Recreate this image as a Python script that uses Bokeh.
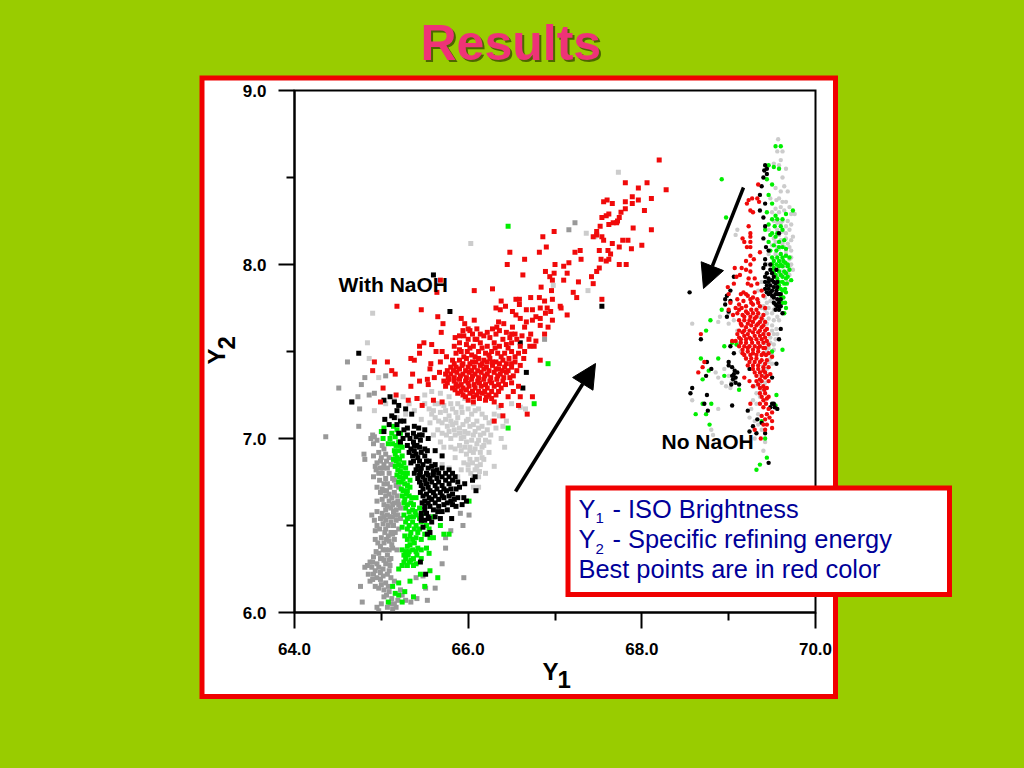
import math
from bokeh.plotting import figure
from bokeh.models import (BoxAnnotation, Label, Arrow, NormalHead, FixedTicker, NumeralTickFormatter,
                          GlobalInlineStyleSheet, ColumnDataSource)
from bokeh.embed import file_html
from bokeh.resources import INLINE

X_TICKS = [64, 66, 68, 70]
X_MINOR = [65, 67, 69]
Y_TICKS = [6, 7, 8, 9]
Y_MINOR = [6.5, 7.5, 8.5]

NAOH_DARKGRAY = [(64.36,7.01),(64.51,7.29),(64.61,7.44),(64.81,7.35),(64.77,7.31),(64.73,7.24),(64.66,7.21),(64.75,7.17),(64.86,7.25),(64.92,7.26),(64.74,7.07),(64.90,7.02),(64.88,7.0),(64.92,7.01),(64.95,6.99),(64.91,6.97),(65.01,6.96),(65.03,6.94),(64.80,6.91),(64.81,6.88),(64.91,6.90),(65.05,6.91),(64.99,6.87),(64.95,6.86),(64.93,6.84),(64.99,6.83),(65.03,6.85),(64.97,6.80),(65.01,6.80),(64.91,6.78),(65.07,6.83),(65.11,6.85),(65.09,6.89),(65.13,6.77),(65.05,6.77),(65.07,6.74),(65.15,6.76),(65.03,6.70),(64.99,6.69),(65.05,6.67),(64.95,6.64),(65.01,6.65),(65.09,6.68),(65.15,6.69),(65.20,6.72),(65.09,6.64),(65.13,6.62),(65.19,6.64),(65.07,6.61),(65.11,6.60),(65.17,6.59),(65.22,6.60),(64.89,6.56),(64.95,6.58),(65.01,6.57),(65.07,6.56),(65.13,6.55),(65.19,6.56),(64.99,6.54),(65.05,6.53),(65.11,6.52),(65.17,6.53),(65.22,6.54),(64.93,6.47),(64.95,6.50),(65.05,6.48),(65.11,6.46),(65.20,6.48),(64.93,6.42),(64.99,6.38),(65.03,6.40),(65.09,6.41),(65.15,6.42),(65.05,6.36),(64.97,6.34),(64.91,6.32),(65.01,6.31),(64.87,6.29),(64.95,6.28),(65.07,6.33),(65.13,6.37),(64.81,6.26),(64.89,6.26),(64.97,6.26),(65.05,6.28),(65.11,6.31),(64.85,6.22),(64.91,6.22),(64.99,6.23),(65.09,6.24),(64.87,6.18),(64.99,6.19),(65.05,6.17),(65.11,6.20),(65.15,6.18),(64.97,6.14),(65.03,6.13),(65.09,6.12),(64.76,6.15),(64.78,6.06),(65.03,6.09),(64.95,6.03),(64.97,6.01),(65.15,6.05),(65.17,6.03),(65.13,6.02),(65.28,6.07),(65.34,6.06),(65.41,6.08),(65.53,6.07),(65.51,6.14),(65.62,6.14),(65.40,6.20),(65.48,6.21),(65.70,6.28),(65.74,6.37),(65.74,6.43),(65.80,6.47),(65.94,6.50),(65.91,6.57),(66.01,6.56),(65.95,6.20),(67.23,8.24),(67.16,8.20),(66.88,7.57),(65.05,7.36),(64.95,6.72),(65.04,6.46),(65.16,6.46),(65.18,6.36),(65.10,6.27),(65.24,6.27),(65.22,6.13),(65.10,6.05)]
NAOH_DARKGRAY_DENSE = [(64.97,6.92),(65.0,6.89),(65.06,6.87),(64.94,6.82),(65.02,6.83),(65.09,6.80),(64.98,6.76),(65.03,6.74),(65.1,6.72),(65.17,6.73),(65.01,6.71),(65.06,6.70),(65.12,6.66),(65.18,6.67),(65.03,6.62),(65.15,6.63),(65.2,6.62),(65.05,6.59),(65.14,6.58),(65.03,6.55),(65.1,6.55),(65.16,6.56),(64.92,6.53),(65.02,6.51),(65.08,6.5),(65.14,6.5),(64.98,6.48),(65.08,6.44),(65.13,6.45),(65.0,6.43),(65.06,6.42),(64.96,6.4),(65.12,6.39),(65.02,6.36),(65.09,6.36),(64.94,6.35),(64.99,6.31),(64.9,6.29),(65.03,6.3),(65.09,6.3),(64.84,6.27),(64.93,6.24),(65.02,6.25),(65.07,6.22),(64.95,6.2),(64.9,6.19),(65.02,6.21),(65.0,6.16),(65.08,6.15),(64.93,6.15),(65.06,6.1),(65.12,6.08),(65.0,6.05),(65.07,6.03),(65.19,6.07),(65.24,6.1)]

NAOH_LIGHTGRAY = [(66.03,8.12),(67.73,8.53),(64.90,7.72),(64.84,7.55),(64.86,7.46),(64.97,7.35),(67.36,8.18),(67.38,7.85),(66.98,7.88),(67.46,8.16),(65.05,7.2),(64.92,7.16),(65.15,7.22),(65.25,7.24),(65.32,7.2),(65.42,7.23),(65.5,7.25),(65.58,7.27),(65.68,7.26),(65.78,7.24),(65.88,7.2),(65.96,7.23),(66.06,7.2),(66.12,7.17),(66.2,7.12),(66.28,7.1),(66.36,7.13),(66.44,7.1),(66.5,7.2),(66.6,7.18),(66.66,7.17),(66.35,7.18),(65.5,7.2),(65.55,7.17),(65.62,7.2),(65.68,7.15),(65.72,7.19),(65.78,7.13),(65.82,7.17),(65.88,7.12),(65.93,7.15),(65.98,7.1),(66.04,7.14),(66.1,7.1),(66.16,7.07),(66.22,7.05),(65.62,7.12),(65.7,7.09),(65.76,7.07),(65.82,7.08),(65.9,7.06),(65.96,7.04),(66.02,7.07),(66.08,7.04),(66.14,7.02),(66.2,6.99),(66.26,7.02),(66.32,7.06),(65.75,7.02),(65.8,7.0),(65.85,7.02),(65.92,7.0),(65.98,6.98),(66.04,6.99),(66.1,6.97),(66.16,6.95),(66.06,6.92),(65.8,6.95),(65.85,6.94),(65.92,6.93),(65.98,6.91),(66.02,6.88),(66.1,6.88),(66.14,6.85),(65.85,6.89),(65.95,6.86),(66.0,6.82),(66.08,6.82),(66.06,6.77),(66.12,6.78),(66.3,6.84),(66.12,6.72),(66.06,6.72),(65.18,7.12),(65.28,7.14),(65.38,7.16),(65.46,7.11),(65.56,7.09),(66.18,6.88),(66.24,6.92),(65.72,6.95),(65.6,7.02),(65.65,7.05),(65.68,6.98),(65.7,6.85),(65.78,6.83),(65.88,6.78),(66.38,7.0),(66.42,6.95),(66.2,6.8)]
NAOH_LIGHTGRAY_DENSE = [(65.6,7.16),(65.66,7.2),(65.74,7.16),(65.8,7.2),(65.86,7.15),(65.92,7.18),(66.0,7.17),(66.08,7.16),(66.16,7.14),(66.24,7.09),(66.3,7.14),(66.4,7.07),(65.58,7.14),(65.66,7.1),(65.74,7.11),(65.8,7.1),(65.86,7.09),(65.94,7.08),(66.0,7.11),(66.06,7.08),(66.12,7.06),(66.18,7.03),(66.24,6.98),(65.7,7.03),(65.78,7.04),(65.84,7.05),(65.9,7.03),(65.95,7.01),(66.0,7.03),(66.06,7.02),(66.12,6.99),(66.18,6.96),(66.02,6.95),(66.08,6.94),(65.96,6.95),(65.9,6.96),(66.14,6.92),(66.0,6.85),(66.05,6.86),(66.1,6.84),(66.13,6.81),(66.03,6.8),(65.92,6.82),(66.16,6.89),(66.02,6.93)]

NAOH_GREEN = [(66.46,8.22),(66.92,7.43),(66.76,7.2),(66.46,7.06),(66.01,6.64),(65.0,7.04),(65.03,7.06),(65.12,7.03),(65.14,7.07),(65.18,7.05),(65.02,7.0),(65.1,7.0),(65.16,7.01),(65.22,7.03),(65.08,6.97),(65.13,6.97),(65.2,6.98),(65.15,6.93),(65.2,6.93),(65.24,6.95),(65.18,6.89),(65.24,6.9),(65.14,6.88),(65.2,6.85),(65.26,6.86),(65.16,6.84),(65.22,6.81),(65.28,6.83),(65.18,6.79),(65.25,6.77),(65.3,6.8),(65.2,6.75),(65.27,6.74),(65.33,6.76),(65.23,6.71),(65.3,6.7),(65.24,6.67),(65.32,6.67),(65.26,6.63),(65.34,6.63),(65.4,6.66),(65.28,6.6),(65.36,6.59),(65.44,6.6),(65.26,6.56),(65.33,6.55),(65.4,6.56),(65.5,6.57),(65.6,6.55),(65.28,6.52),(65.36,6.52),(65.46,6.52),(65.68,6.5),(65.24,6.49),(65.3,6.48),(65.38,6.48),(65.55,6.48),(65.72,6.45),(65.27,6.44),(65.33,6.44),(65.4,6.43),(65.6,6.43),(65.78,6.45),(65.33,6.39),(65.38,6.4),(65.24,6.36),(65.32,6.35),(65.42,6.37),(65.56,6.43),(65.28,6.31),(65.34,6.3),(65.41,6.33),(65.52,6.37),(65.24,6.27),(65.3,6.27),(65.37,6.27),(65.46,6.31),(65.55,6.34),(65.2,6.25),(65.45,6.22),(65.2,6.17),(65.13,6.15),(65.33,6.18),(65.56,6.24),(65.65,6.2),(65.16,6.11),(65.27,6.12),(65.5,6.15),(65.08,6.06),(65.24,6.06),(65.2,6.1),(65.37,6.09)]
NAOH_GREEN_DENSE = [(65.17,6.96),(65.22,6.96),(65.16,6.91),(65.21,6.88),(65.17,6.87),(65.23,6.84),(65.19,6.82),(65.25,6.8),(65.21,6.78),(65.28,6.78),(65.23,6.75),(65.3,6.73),(65.25,6.7),(65.33,6.72),(65.27,6.65),(65.29,6.68),(65.35,6.66),(65.3,6.62),(65.37,6.62),(65.32,6.58),(65.39,6.58),(65.3,6.54),(65.37,6.55),(65.44,6.54),(65.32,6.5),(65.4,6.5),(65.34,6.46),(65.42,6.46),(65.3,6.42),(65.36,6.42),(65.3,6.38),(65.36,6.36),(65.28,6.35),(65.4,6.35),(65.26,6.33),(65.31,6.33),(65.37,6.31),(65.26,6.29),(65.32,6.29),(65.4,6.28),(65.46,6.42),(65.5,6.45),(65.46,6.36),(65.44,6.48),(65.52,6.5)]

NAOH_BLACK = [(64.74,7.49),(64.66,7.21),(65.6,7.94),(65.79,7.73),(66.6,7.55),(66.67,7.38),(67.54,7.76),(66.63,7.29),(65.03,7.22),(65.1,7.24),(65.15,7.21),(65.2,7.19),(65.35,7.14),(65.18,7.16),(65.28,7.17),(65.04,7.11),(65.09,7.08),(65.18,7.08),(65.26,7.05),(65.03,7.04),(65.2,7.03),(65.3,7.06),(65.38,7.07),(65.44,7.02),(65.3,7.02),(65.37,7.03),(65.43,7.06),(65.5,7.05),(65.22,6.98),(65.3,6.96),(65.37,6.98),(65.45,6.99),(65.54,7.0),(65.38,6.93),(65.44,6.95),(65.5,6.94),(65.36,6.9),(65.42,6.89),(65.5,6.9),(65.55,6.87),(65.34,6.86),(65.42,6.84),(65.48,6.85),(65.58,6.84),(65.38,6.8),(65.45,6.81),(65.52,6.8),(65.64,6.82),(65.7,6.83),(65.78,6.82),(65.42,6.77),(65.5,6.76),(65.56,6.77),(65.64,6.77),(65.7,6.78),(65.78,6.78),(65.85,6.78),(65.88,6.75),(65.46,6.73),(65.54,6.72),(65.62,6.73),(65.7,6.73),(65.78,6.74),(65.86,6.71),(65.45,6.69),(65.52,6.68),(65.6,6.69),(65.68,6.69),(65.75,6.7),(65.82,6.68),(65.96,6.74),(66.05,6.76),(66.08,6.78),(66.09,6.7),(65.5,6.64),(65.58,6.65),(65.66,6.65),(65.72,6.66),(65.8,6.64),(65.88,6.66),(65.95,6.66),(65.5,6.61),(65.56,6.61),(65.66,6.61),(65.72,6.62),(65.86,6.61),(65.93,6.62),(65.98,6.64),(65.46,6.57),(65.52,6.57),(65.62,6.55),(65.68,6.54),(65.81,6.54),(65.5,6.53),(65.58,6.52),(65.48,6.49),(65.56,6.46),(65.45,6.29),(65.51,6.22),(65.53,6.45),(65.55,6.54),(65.65,6.58),(65.76,6.59),(65.25,7.0),(65.62,6.93),(65.7,6.9),(65.62,6.85)]
NAOH_BLACK_DENSE = [(65.33,7.0),(65.4,7.01),(65.34,6.94),(65.41,6.96),(65.47,7.02),(65.38,6.96),(65.32,6.92),(65.4,6.91),(65.46,6.92),(65.53,6.93),(65.37,6.87),(65.44,6.87),(65.52,6.87),(65.4,6.82),(65.46,6.83),(65.54,6.83),(65.6,6.81),(65.44,6.79),(65.48,6.78),(65.54,6.79),(65.6,6.79),(65.66,6.8),(65.74,6.8),(65.82,6.8),(65.44,6.75),(65.52,6.74),(65.58,6.75),(65.66,6.75),(65.74,6.76),(65.82,6.76),(65.48,6.71),(65.56,6.7),(65.64,6.71),(65.72,6.71),(65.8,6.71),(65.9,6.72),(65.48,6.67),(65.55,6.66),(65.62,6.67),(65.7,6.67),(65.78,6.67),(65.84,6.65),(65.47,6.63),(65.54,6.63),(65.62,6.63),(65.76,6.63),(65.82,6.62),(65.5,6.59),(65.6,6.59),(65.7,6.58),(65.46,6.55),(65.54,6.55),(65.46,6.53),(65.15,7.12),(65.26,7.1),(65.12,7.13),(65.22,7.1)]

NAOH_RED = [(68.20,8.60),(68.28,8.43),(68.06,8.47),(67.96,8.44),(67.81,8.47),(67.89,8.39),(67.96,8.37),(68.11,8.38),(67.81,8.36),(67.89,8.35),(67.66,8.35),(67.60,8.37),(67.56,8.36),(68.03,8.31),(67.81,8.32),(67.76,8.30),(67.62,8.29),(67.59,8.28),(67.54,8.27),(67.74,8.27),(67.72,8.25),(67.62,8.23),(67.67,8.24),(67.71,8.24),(67.52,8.22),(67.90,8.21),(68.11,8.20),(67.48,8.19),(67.44,8.16),(67.48,8.17),(67.54,8.16),(67.56,8.14),(66.99,8.19),(66.86,8.16),(66.90,8.10),(66.82,8.07),(66.48,8.07),(66.65,8.03),(66.45,8.0),(67.23,8.07),(67.29,8.08),(67.30,8.03),(67.51,8.08),(67.66,8.12),(67.74,8.10),(67.78,8.14),(67.84,8.14),(67.88,8.09),(68.0,8.11),(67.74,8.0),(67.82,8.0),(67.64,8.06),(67.61,8.08),(67.53,8.03),(67.62,8.03),(67.59,8.02),(67.51,7.98),(67.48,7.96),(67.42,7.93),(67.44,7.89),(67.0,8.0),(67.10,7.99),(67.16,8.01),(67.14,7.95),(66.89,7.96),(66.94,7.93),(66.99,7.95),(66.97,7.91),(67.10,7.91),(67.27,7.90),(66.63,7.94),(66.84,7.87),(66.96,7.85),(67.21,7.84),(67.25,7.81),(67.54,7.80),(66.28,7.86),(66.07,7.85),(65.64,7.84),(65.68,7.91),(66.72,7.81),(66.82,7.81),(66.97,7.80),(66.88,7.79),(66.55,7.80),(66.59,7.80),(66.59,7.77),(66.43,7.76),(66.38,7.79),(66.32,7.75),(66.37,7.74),(66.51,7.73),(66.55,7.71),(66.67,7.74),(66.74,7.74),(66.83,7.75),(66.91,7.75),(67.06,7.76),(67.07,7.75),(67.14,7.71),(66.89,7.72),(66.95,7.73),(66.78,7.70),(66.74,7.68),(66.67,7.67),(66.6,7.69),(66.83,7.69),(66.92,7.64),(66.97,7.68),(66.83,7.65),(66.65,7.64),(66.51,7.64),(66.41,7.66),(66.35,7.67),(66.33,7.64),(66.07,7.68),(65.92,7.69),(65.96,7.66),(66.0,7.63),(65.65,7.70),(65.71,7.66),(65.69,7.61),(65.46,7.74),(65.18,7.76),(66.88,7.60),(66.70,7.57),(66.78,7.56),(66.71,7.53),(66.76,7.53),(66.65,7.50),(66.83,7.45),(64.92,7.44),(65.07,7.44),(64.90,7.39),(65.12,7.39),(65.02,7.29),(65.16,7.37),(65.34,7.46),(65.38,7.45),(65.44,7.49),(65.44,7.53),(65.49,7.55),(65.58,7.54),(65.63,7.5),(65.70,7.5),(65.68,7.44),(65.75,7.47),(65.57,7.43),(65.56,7.40),(65.67,7.38),(65.36,7.37),(65.44,7.33),(65.34,7.30),(65.53,7.34),(65.61,7.35),(65.54,7.31),(64.99,7.21),(65.17,7.25),(65.31,7.22),(65.41,7.23),(65.47,7.19),(65.6,7.22),(65.7,7.21),
(65.85,7.58),(65.95,7.59),(66.05,7.6),(66.1,7.57),(66.18,7.59),(66.25,7.58),(66.32,7.6),(66.4,7.57),(66.48,7.58),(66.56,7.57),(65.84,7.53),(65.9,7.55),(65.98,7.54),(66.06,7.53),(66.14,7.55),(66.22,7.53),(66.3,7.55),(66.36,7.53),(66.44,7.54),(66.5,7.55),(66.6,7.53),(65.86,7.49),(65.92,7.5),(65.99,7.5),(66.04,7.48),(66.12,7.5),(66.2,7.49),(66.27,7.5),(66.34,7.49),(66.42,7.49),(66.5,7.5),(66.58,7.49),(66.64,7.46),(65.82,7.45),(65.9,7.45),(65.98,7.46),(66.05,7.44),(66.12,7.46),(66.18,7.45),(66.25,7.46),(66.32,7.44),(66.4,7.45),(66.47,7.46),(66.54,7.44),(66.6,7.42),(65.8,7.41),(65.86,7.41),(65.93,7.42),(66.0,7.41),(66.07,7.41),(66.14,7.42),(66.21,7.41),(66.28,7.42),(66.35,7.4),(66.42,7.41),(66.5,7.41),(66.56,7.39),(65.74,7.37),(65.8,7.37),(65.87,7.38),(65.94,7.37),(66.01,7.38),(66.08,7.37),(66.15,7.38),(66.22,7.37),(66.3,7.38),(66.37,7.37),(66.44,7.38),(66.52,7.36),(65.72,7.33),(65.78,7.34),(65.84,7.33),(65.9,7.34),(65.97,7.33),(66.04,7.34),(66.11,7.33),(66.18,7.34),(66.25,7.33),(66.33,7.34),(66.4,7.33),(66.5,7.32),(65.74,7.3),(65.82,7.29),(65.88,7.3),(65.94,7.29),(66.01,7.3),(66.08,7.29),(66.15,7.3),(66.22,7.29),(66.3,7.3),(66.38,7.29),(66.58,7.3),(66.52,7.27),(65.88,7.26),(65.94,7.25),(66.02,7.26),(66.1,7.25),(66.16,7.26),(66.24,7.25),(66.32,7.25),(66.46,7.24),(66.6,7.24),(66.0,7.22),(66.06,7.21),(66.2,7.22),(66.3,7.21),(66.38,7.19),(66.58,7.19),(66.68,7.14),(66.74,7.24),(66.4,7.13),(66.3,7.1)]
NAOH_RED_DENSE = [(65.9,7.51),(65.95,7.47),(66.02,7.52),(66.08,7.47),(66.16,7.52),(66.24,7.48),(66.31,7.52),(66.38,7.47),(66.46,7.52),(66.54,7.47),(65.84,7.43),(65.94,7.43),(66.02,7.43),(66.09,7.44),(66.16,7.43),(66.22,7.44),(66.28,7.44),(66.36,7.43),(66.44,7.43),(66.5,7.43),(65.76,7.39),(65.83,7.39),(65.9,7.4),(65.97,7.39),(66.04,7.39),(66.11,7.39),(66.18,7.4),(66.24,7.39),(66.32,7.4),(66.39,7.39),(66.46,7.39),(65.77,7.35),(65.84,7.35),(65.91,7.36),(65.98,7.35),(66.05,7.36),(66.12,7.35),(66.19,7.36),(66.26,7.35),(66.34,7.36),(66.41,7.35),(66.48,7.35),(65.76,7.32),(65.86,7.31),(65.92,7.31),(66.0,7.32),(66.07,7.31),(66.13,7.32),(66.2,7.31),(66.27,7.32),(66.35,7.31),(66.43,7.31),(65.85,7.28),(65.92,7.27),(65.98,7.28),(66.05,7.27),(66.12,7.27),(66.19,7.27),(66.27,7.27),(66.35,7.27),(65.97,7.24),(66.06,7.24),(66.13,7.23),(66.21,7.24),(66.27,7.23),(66.08,7.57),(66.0,7.57),(65.9,7.59),(66.14,7.6),(66.22,7.61),(66.36,7.62),(66.44,7.61),(66.54,7.6),(66.62,7.59),(66.72,7.6),(66.02,7.62),(65.94,7.62),(66.1,7.63),(66.28,7.63),(66.5,7.6)]

NONAOH_GRAY = [(69.57,8.72),(69.56,8.65),(69.62,8.65),(69.52,8.58),(69.58,8.57),(69.64,8.45),(69.54,8.44),(69.6,8.42),(69.48,8.38),(69.55,8.37),(69.62,8.36),(69.5,8.3),(69.58,8.3),(69.64,8.31),(69.72,8.29),(69.76,8.29),(69.68,8.25),(69.52,8.25),(69.6,8.24),(69.46,8.2),(69.56,8.2),(69.62,8.19),(69.7,8.2),(69.52,8.15),(69.6,8.14),(69.66,8.15),(69.72,8.14),(69.5,8.11),(69.56,8.1),(69.64,8.1),(69.7,8.1),(69.46,8.06),(69.54,8.06),(69.6,8.06),(69.66,8.06),(69.72,8.04),(69.58,8.02),(69.66,8.01),(69.72,8.0),(69.1,8.2),(69.08,8.17),(69.45,8.0),(69.52,7.97),(69.6,7.96),(69.68,7.96),(69.74,7.97),(69.68,7.9),(69.45,7.92),(69.38,7.9),(69.34,7.85),(69.42,7.85),(69.5,7.9),(69.34,7.79),(69.38,7.75),(69.44,7.78),(69.5,7.8),(69.56,7.78),(69.36,7.7),(69.44,7.72),(69.5,7.72),(69.56,7.7),(69.44,7.66),(69.5,7.65),(69.55,7.63),(69.4,7.6),(69.46,7.6),(69.52,7.6),(69.42,7.55),(69.48,7.55),(69.52,7.54),(69.44,7.5),(69.5,7.48),(69.46,7.44),(69.4,7.42),(69.36,7.38),(69.3,7.3),(69.36,7.24),(69.26,7.17),(69.24,7.12),(69.34,7.14),(69.38,7.05),(69.42,6.98),(69.3,7.0),(69.0,7.72),(69.06,7.68),(68.88,7.67),(68.58,7.66),(68.9,7.7),(69.0,7.66),(68.95,7.4),(68.88,7.35),(68.92,7.32),(68.97,7.3),(69.02,7.29),(68.85,7.38),(68.58,7.22),(68.88,7.17),(68.8,7.05),(68.66,7.0),(68.82,7.02),(69.1,7.55),(69.14,7.5),(69.2,7.46),(69.1,7.62)]
NONAOH_GRAY_DENSE = [(69.6,8.6),(69.66,8.55),(69.62,8.5),(69.68,8.42),(69.58,8.38),(69.66,8.36),(69.6,8.33),(69.7,8.33),(69.54,8.32),(69.66,8.22),(69.72,8.23),(69.56,8.24),(69.62,8.25),(69.66,8.18),(69.58,8.17),(69.74,8.16),(69.54,8.13),(69.62,8.12),(69.68,8.12),(69.58,8.09),(69.66,8.08),(69.72,8.08),(69.52,8.03),(69.62,8.03),(69.7,8.03),(69.5,8.0),(69.58,7.99),(69.64,7.99),(69.7,7.99),(69.56,7.94),(69.62,7.94),(69.7,7.94),(69.48,7.88),(69.52,7.84),(69.42,7.81),(69.48,7.79),(69.4,7.76),(69.46,7.75),(69.54,7.75),(69.42,7.74),(69.52,7.74),(69.4,7.68),(69.46,7.69),(69.52,7.68),(69.58,7.68),(69.44,7.63),(69.5,7.62),(69.56,7.6),(69.42,7.58),(69.48,7.58),(69.54,7.57),(69.46,7.52),(69.52,7.51),(69.48,7.46),(69.5,7.43),(69.44,7.4),(69.47,7.37),(69.4,7.36),(69.36,7.32),(69.42,7.32),(69.38,7.28),(69.32,7.26),(69.28,7.22),(69.32,7.2),(69.3,7.1),(69.34,7.08),(69.4,6.93),(69.0,7.36),(69.03,7.32)]

NONAOH_GREEN = [(68.92,8.49),(69.54,8.68),(69.6,8.68),(69.46,8.57),(69.52,8.56),(69.58,8.55),(69.44,8.49),(69.5,8.46),(69.46,8.4),(69.5,8.35),(69.44,8.3),(68.97,8.27),(69.46,8.23),(69.5,8.26),(69.54,8.28),(69.74,8.31),(69.66,8.29),(69.42,8.2),(69.48,8.17),(69.54,8.16),(69.62,8.2),(69.46,8.13),(69.58,8.13),(69.48,8.08),(69.55,8.08),(69.62,8.1),(69.5,8.04),(69.56,8.04),(69.62,8.04),(69.66,8.05),(69.5,8.0),(69.55,8.0),(69.6,8.0),(69.65,8.01),(69.52,7.96),(69.58,7.96),(69.64,7.96),(69.7,7.97),(69.56,7.92),(69.62,7.93),(69.66,7.92),(69.72,7.91),(69.58,7.88),(69.64,7.89),(69.62,7.85),(69.66,7.84),(69.6,7.82),(69.65,7.78),(69.64,7.72),(68.92,7.74),(68.79,7.68),(68.74,7.62),(68.95,7.53),(69.04,7.55),(69.09,7.54),(69.5,7.5),(69.62,7.51),(68.68,7.46),(68.88,7.46),(68.77,7.39),(68.95,7.36),(68.7,7.34),(69.12,7.28),(69.55,7.25),(69.54,7.19),(68.7,7.2),(68.8,7.2),(68.62,7.14),(68.74,7.14),(68.78,7.08),(69.38,7.1),(69.42,7.0),(69.44,6.89),(69.36,6.85),(69.32,6.82)]
NONAOH_GREEN_DENSE = [(69.52,8.02),(69.58,8.02),(69.63,8.02),(69.52,7.98),(69.58,7.99),(69.62,7.99),(69.68,7.99),(69.54,7.94),(69.6,7.94),(69.66,7.95),(69.58,7.9),(69.62,7.9),(69.67,7.89),(69.56,7.86),(69.6,7.86),(69.65,7.86),(69.58,7.83),(69.63,7.81),(69.62,7.78),(69.66,7.75),(69.52,8.11),(69.58,8.1),(69.6,8.06),(69.5,8.18),(69.56,8.18),(69.53,8.22),(69.6,8.22),(69.56,8.26),(69.62,8.26),(69.68,8.0),(69.7,8.04),(69.66,8.09),(69.64,8.14),(69.68,7.93)]

NONAOH_BLACK = [(68.55,7.84),(69.42,8.57),(69.44,8.52),(69.4,8.5),(69.38,8.45),(69.36,8.4),(69.42,8.35),(69.36,8.31),(69.4,8.27),(69.42,8.22),(69.4,8.15),(69.43,8.1),(69.42,8.03),(69.4,7.98),(69.44,7.95),(69.58,8.18),(69.46,8.08),(69.48,8.0),(69.42,8.0),(69.42,7.93),(69.46,7.92),(69.5,7.95),(69.55,7.97),(69.44,7.88),(69.48,7.88),(69.52,7.9),(69.56,7.9),(69.42,7.86),(69.5,7.85),(69.55,7.85),(69.58,7.83),(69.46,7.83),(69.52,7.81),(69.56,7.8),(69.6,7.8),(69.54,7.77),(69.6,7.76),(69.06,7.93),(69.02,7.85),(68.98,7.82),(69.02,7.79),(68.96,7.8),(69.0,7.73),(68.96,7.77),(69.62,7.72),(68.98,7.7),(69.6,7.63),(69.58,7.57),(68.68,7.57),(69.02,7.53),(69.06,7.49),(69.0,7.44),(68.75,7.44),(68.8,7.4),(68.74,7.36),(69.0,7.42),(69.04,7.41),(69.06,7.37),(69.1,7.38),(69.08,7.35),(69.05,7.34),(69.08,7.32),(69.12,7.31),(69.24,7.4),(69.55,7.43),(69.5,7.35),(68.58,7.29),(68.56,7.26),(68.75,7.25),(68.72,7.2),(68.76,7.16),(69.04,7.19),(69.5,7.2),(69.48,7.18),(69.56,7.17),(69.22,7.16),(69.33,7.11),(69.28,7.07),(69.38,7.09),(69.24,7.04),(69.32,7.03),(69.42,7.03),(69.46,6.86)]
NONAOH_BLACK_DENSE = [(69.44,8.55),(69.41,8.54),(69.46,7.9),(69.5,7.91),(69.54,7.89),(69.46,7.86),(69.52,7.87),(69.48,7.84),(69.54,7.83),(69.5,7.82),(69.56,7.83),(69.52,7.78),(69.58,7.78),(69.56,7.76),(69.54,7.74),(69.58,7.74),(69.52,7.93),(69.48,7.97),(69.44,7.84),(69.56,7.87),(69.42,7.9),(69.6,7.83),(69.04,7.36),(69.07,7.39),(69.03,7.31),(69.52,7.2),(69.53,7.18)]

NONAOH_RED = [(69.34,8.46),(69.23,8.37),(69.21,8.35),(69.27,8.38),(69.33,8.38),(69.35,8.36),(69.25,8.31),(69.28,8.3),(69.23,8.22),(69.25,8.18),(69.16,8.15),(69.25,8.16),(69.18,8.13),(69.25,8.13),(69.25,8.1),(69.21,8.1),(69.36,8.07),(69.25,8.05),(69.29,8.03),(69.2,8.02),(69.25,8.0),(69.07,7.98),(69.15,7.98),(69.2,7.97),(69.25,7.96),(69.13,7.94),(69.09,7.93),(69.23,7.92),(69.3,7.92),(69.22,7.89),(69.26,7.88),(69.33,7.89),(68.99,7.87),(69.06,7.89),(69.0,7.83),(69.17,7.84),(69.2,7.83),(69.3,7.84),(69.38,7.85),(69.1,7.8),(69.17,7.79),(69.25,7.8),(69.33,7.8),(69.4,7.82),(69.02,7.78),(69.0,7.74),(69.08,7.75),(69.15,7.75),(69.2,7.76),(69.28,7.77),(69.36,7.76),(69.42,7.75),(69.05,7.71),(69.1,7.72),(69.16,7.71),(69.22,7.72),(69.28,7.72),(69.34,7.72),(69.4,7.71),(69.12,7.68),(69.18,7.68),(69.24,7.68),(69.3,7.69),(69.36,7.67),(69.42,7.67),(69.15,7.65),(69.2,7.64),(69.26,7.65),(69.32,7.65),(69.38,7.64),(69.44,7.63),(69.1,7.6),(69.16,7.61),(69.22,7.6),(69.28,7.61),(69.34,7.61),(69.4,7.6),(69.46,7.6),(69.08,7.56),(69.14,7.57),(69.2,7.57),(69.26,7.57),(69.32,7.57),(69.38,7.57),(69.44,7.56),(69.12,7.53),(69.18,7.53),(69.24,7.53),(69.3,7.53),(69.36,7.53),(69.42,7.52),(69.16,7.49),(69.22,7.5),(69.28,7.49),(69.34,7.5),(69.4,7.49),(69.46,7.49),(69.2,7.46),(69.26,7.46),(69.32,7.46),(69.38,7.45),(69.44,7.45),(69.5,7.47),(69.22,7.42),(69.28,7.42),(69.34,7.42),(69.4,7.41),(69.46,7.41),(69.3,7.38),(69.36,7.38),(69.42,7.38),(69.48,7.37),(69.18,7.35),(69.24,7.33),(69.36,7.34),(69.42,7.35),(69.46,7.33),(69.28,7.3),(69.34,7.31),(69.4,7.3),(69.44,7.29),(69.36,7.26),(69.42,7.26),(69.46,7.24),(69.4,7.22),(69.25,7.2),(69.36,7.2),(69.43,7.2),(69.5,7.15),(69.44,7.14),(69.38,7.13),(69.5,7.1),(69.44,7.08),(69.5,7.06),(69.4,7.08),(69.42,7.05),(69.3,7.05),(69.37,7.0),(68.68,7.6),(68.72,7.44),(68.7,7.41),(68.65,7.38),(69.04,7.56)]
NONAOH_RED_DENSE = [(69.12,7.74),(69.2,7.73),(69.26,7.74),(69.32,7.74),(69.18,7.7),(69.25,7.7),(69.32,7.7),(69.38,7.69),(69.14,7.66),(69.22,7.66),(69.28,7.67),(69.34,7.66),(69.4,7.65),(69.12,7.62),(69.18,7.62),(69.24,7.62),(69.3,7.63),(69.36,7.62),(69.42,7.62),(69.12,7.58),(69.18,7.59),(69.24,7.58),(69.3,7.59),(69.36,7.59),(69.42,7.58),(69.14,7.55),(69.2,7.55),(69.27,7.55),(69.34,7.55),(69.4,7.55),(69.46,7.54),(69.16,7.51),(69.22,7.52),(69.28,7.51),(69.34,7.52),(69.4,7.52),(69.18,7.48),(69.25,7.48),(69.32,7.48),(69.38,7.48),(69.43,7.48),(69.24,7.44),(69.3,7.44),(69.36,7.44),(69.42,7.43),(69.28,7.4),(69.34,7.4),(69.4,7.39),(69.32,7.36),(69.38,7.36),(69.44,7.36),(69.32,7.33),(69.38,7.33),(69.36,7.29),(69.41,7.28),(69.38,7.24),(69.44,7.23),(69.4,7.18),(69.46,7.17),(69.42,7.11),(69.47,7.12),(69.26,7.78),(69.34,7.78),(69.22,7.82),(69.28,7.81),(69.14,7.83),(69.12,7.77)]

RED = "#f00a0a"
GREEN = "#00ee00"
DARK = "#999999"
LIGHT = "#cccccc"
BLACK = "#000000"

W, H = 1024, 768
FL, FR, FT, FB = 294, 815, 90, 612
XMIN, XMAX, YMIN, YMAX = 64.0, 70.0, 6.0, 9.0


def X(px):
    return XMIN + (px - FL) * (XMAX - XMIN) / (FR - FL)


def Y(py):
    return YMIN + (FB - py) * (YMAX - YMIN) / (FB - FT)


p = figure(width=W, height=H, output_backend="svg", toolbar_location=None,
           x_range=(X(0), X(W)), y_range=(Y(H), Y(0)),
           min_border=0, border_fill_color="#99cc00", background_fill_color="#99cc00")
p.stylesheets = [GlobalInlineStyleSheet(css="html,body{background:#99cc00;overflow:hidden}")]
p.grid.visible = False
p.outline_line_color = None

p.add_layout(BoxAnnotation(left=X(201.5), right=X(835), top=Y(77.5), bottom=Y(696),
                           fill_color="white", fill_alpha=1, line_color="#f00000", line_alpha=1, line_width=5,
                           line_join="miter", border_radius=0, level="image"))
p.add_layout(BoxAnnotation(left=XMIN, right=XMAX, top=YMAX, bottom=YMIN, fill_alpha=0,
                           line_color="black", line_alpha=1, line_width=2, line_join="miter", level="image"))


def pts(rows, **kw):
    src = ColumnDataSource({"x": [r[0] for r in rows], "y": [r[1] for r in rows]})
    return p.scatter("x", "y", source=src, **kw)


for rows, col in ((NAOH_DARKGRAY + NAOH_DARKGRAY_DENSE, DARK), (NAOH_LIGHTGRAY + NAOH_LIGHTGRAY_DENSE, LIGHT),
                  (NAOH_GREEN + NAOH_GREEN_DENSE, GREEN), (NAOH_BLACK + NAOH_BLACK_DENSE, BLACK),
                  (NAOH_RED + NAOH_RED_DENSE, RED)):
    pts(rows, marker="square", size=5, fill_color=col, line_color=None)
for rows, col in ((NONAOH_GRAY + NONAOH_GRAY_DENSE, LIGHT), (NONAOH_GREEN + NONAOH_GREEN_DENSE, GREEN),
                  (NONAOH_BLACK + NONAOH_BLACK_DENSE, BLACK), (NONAOH_RED + NONAOH_RED_DENSE, RED)):
    pts(rows, marker="circle", size=4.4, fill_color=col, line_color=None)

p.xaxis[0].fixed_location = YMIN
p.yaxis[0].fixed_location = XMIN
p.xaxis[0].bounds = (XMIN, XMAX)
p.yaxis[0].bounds = (YMIN, YMAX)
for ax in (p.xaxis[0], p.yaxis[0]):
    ax.axis_line_width = 2
    ax.major_tick_line_width = 2
    ax.minor_tick_line_width = 2
    ax.major_tick_out = 16
    ax.major_tick_in = 0
    ax.minor_tick_out = 8
    ax.minor_tick_in = 0
    ax.major_label_text_font = "Liberation Sans"
    ax.major_label_text_font_style = "bold"
    ax.major_label_text_font_size = "17px"
    ax.major_label_text_color = "black"
    ax.formatter = NumeralTickFormatter(format="0.0")
p.xaxis[0].major_label_standoff = 14
p.yaxis[0].major_label_standoff = 12
p.xaxis[0].ticker = FixedTicker(ticks=X_TICKS, minor_ticks=X_MINOR)
p.yaxis[0].ticker = FixedTicker(ticks=Y_TICKS, minor_ticks=Y_MINOR)
p.yaxis[0].major_label_orientation = "horizontal"


def text(s, px, py, size, color="black", style="normal", angle=0.0, align="left", level="annotation"):
    p.add_layout(Label(x=X(px), y=Y(py), text=s, text_font="Liberation Sans", text_font_size=f"{size}px",
                       text_font_style=style, text_color=color, angle=angle, text_align=align,
                       text_baseline="alphabetic", level=level))


for start, end in (((515, 491), (595, 363)), ((743, 187), (703, 288))):
    p.add_layout(Arrow(end=NormalHead(size=24, fill_color="black", line_color="black"),
                       x_start=X(start[0]), y_start=Y(start[1]), x_end=X(end[0]), y_end=Y(end[1]),
                       line_width=3.5, line_color="black"))

text("With NaOH", 338, 284, 21, style="bold")
text("No NaOH", 661, 441, 21, style="bold")

text("Y", 542, 671, 24, style="bold")
text("1", 557, 679, 24, style="bold")
text("Y", 216, 364, 24, style="bold", angle=math.pi / 2)
text("2", 226, 349, 24, style="bold", angle=math.pi / 2)

p.add_layout(BoxAnnotation(left=X(567.5), right=X(949), top=Y(487.5), bottom=Y(594),
                           fill_color="white", fill_alpha=1, line_color="#f00000", line_alpha=1, line_width=5,
                           line_join="miter", level="overlay"))
BLUE = "#000099"
text("Y", 578, 508.5, 25.4, BLUE, level="overlay")
text("1", 595, 517.5, 15, BLUE, level="overlay")
text("- ISO Brightness", 612, 508.5, 25.4, BLUE, level="overlay")
text("Y", 578, 538.5, 25.4, BLUE, level="overlay")
text("2", 595, 548.5, 15, BLUE, level="overlay")
text("- Specific refining energy", 612, 538.5, 25.4, BLUE, level="overlay")
text("Best points are in red color", 578, 568.5, 25.4, BLUE, level="overlay")

text("Results", 422, 44, 50, "#4d6600", "bold")
text("Results", 420, 42, 50, "#ee3377", "bold")

open("out.html", "w").write(file_html(p, INLINE))
